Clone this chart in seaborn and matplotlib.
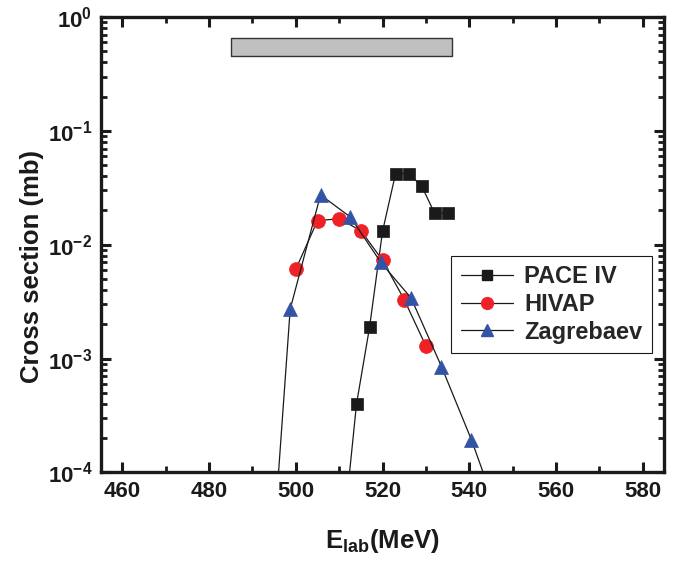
import matplotlib
matplotlib.use("Agg")
import matplotlib.pyplot as plt
from matplotlib.lines import Line2D
from matplotlib.ticker import FixedLocator, LogLocator, NullFormatter, MultipleLocator
import seaborn as sns
import pandas as pd
import numpy as np

# ---- data ----
pace_e = [511, 514, 517, 520, 523, 526, 529, 532, 535]
pace_cs = [3.0e-5, 4.0e-4, 1.88e-3, 1.31e-2, 4.2e-2, 4.2e-2, 3.3e-2, 1.89e-2, 1.89e-2]

hivap_e = [500, 505, 510, 515, 520, 525, 530]
hivap_cs = [6.1e-3, 1.63e-2, 1.69e-2, 1.33e-2, 7.3e-3, 3.3e-3, 1.29e-3]

zag_e = [491.7, 498.7, 505.7, 512.6, 519.6, 526.6, 533.6, 540.5, 547.5]
zag_cs = [5e-7, 2.72e-3, 2.74e-2, 1.75e-2, 7.0e-3, 3.4e-3, 8.5e-4, 1.94e-4, 3.5e-5]

band_e = [485, 536]
band_cs = [0.45, 0.65]

series_names = ["PACE IV", "HIVAP", "Zagrebaev"]
xticks = [460, 480, 500, 520, 540, 560, 580]
yticks = [1e-4, 1e-3, 1e-2, 1e-1, 1e0]
ytick_labels = [r"$\mathbf{10^{-4}}$", r"$\mathbf{10^{-3}}$", r"$\mathbf{10^{-2}}$",
                r"$\mathbf{10^{-1}}$", r"$\mathbf{10^{0}}$"]

sns.set_theme(style="ticks")
fam = ["Liberation Sans", "DejaVu Sans"]
plt.rcParams["font.family"] = fam
plt.rcParams["font.weight"] = "bold"
plt.rcParams["mathtext.fontset"] = "custom"
plt.rcParams["mathtext.rm"] = "Liberation Sans:bold"
plt.rcParams["mathtext.bf"] = "Liberation Sans:bold"
plt.rcParams["mathtext.it"] = "Liberation Sans:bold"

fig = plt.figure(figsize=(6.89, 5.61), dpi=100)
ax = fig.add_axes([0.1462, 0.1578, 0.9642 - 0.1462, 0.9697 - 0.1578])

# band
ax.fill_between(band_e, [band_cs[0]] * 2, [band_cs[1]] * 2, facecolor="#c0c0c0",
                edgecolor="#333333", linewidth=1.0, zorder=1)

styles = [
    dict(marker="s", mfc="#1a1a1a", ms=8.5),
    dict(marker="o", mfc="#ee2127", ms=10),
    dict(marker="^", mfc="#3353a4", ms=10.5),
]
datas = [(pace_e, pace_cs), (hivap_e, hivap_cs), (zag_e, zag_cs)]
for name, (e, cs), st in zip(series_names, datas, styles):
    df = pd.DataFrame({"E": e, "cs": cs})
    sns.lineplot(data=df, x="E", y="cs", ax=ax, sort=False, estimator=None,
                 color="#1a1a1a", linewidth=0.9, marker=st["marker"],
                 markersize=st["ms"], markerfacecolor=st["mfc"],
                 markeredgecolor=st["mfc"], markeredgewidth=0.5, zorder=3)

ax.set_yscale("log")
ax.set_xlim(455, 585)
ax.set_ylim(1e-4, 1e0)

ax.xaxis.set_major_locator(FixedLocator(xticks))
ax.xaxis.set_minor_locator(MultipleLocator(10))
ax.set_xticklabels([str(t) for t in xticks])
ax.yaxis.set_major_locator(FixedLocator(yticks))
ax.set_yticklabels(ytick_labels)
ax.yaxis.set_minor_locator(LogLocator(base=10, subs=np.arange(2, 10)))
ax.yaxis.set_minor_formatter(NullFormatter())

for s in ax.spines.values():
    s.set_linewidth(2.4)
    s.set_color("#1a1a1a")
ax.tick_params(which="major", direction="in", length=7, width=2.2, top=True, right=True,
               labelsize=16, colors="#1a1a1a", pad=6)
ax.tick_params(which="minor", direction="in", length=4, width=2.0, top=True, right=True,
               colors="#1a1a1a")
for lab in ax.get_xticklabels() + ax.get_yticklabels():
    lab.set_fontweight("bold")

ax.set_xlabel(r"E$_{\mathbf{lab}}$(MeV)", fontsize=18.5, fontweight="bold", labelpad=18,
              color="#1a1a1a")
ax.set_ylabel("Cross section (mb)", fontsize=18.5, fontweight="bold",
              color="#1a1a1a")
ax.yaxis.set_label_coords(-0.1, 0.453)

handles = [Line2D([0], [0], color="#1a1a1a", lw=0.9, marker=st["marker"],
                  markersize=st["ms"] * 0.85, markerfacecolor=st["mfc"],
                  markeredgecolor=st["mfc"]) for st in styles]
leg = ax.legend(handles, series_names, loc="upper left", bbox_to_anchor=(0.622, 0.476),
                frameon=True, fancybox=False, edgecolor="#1a1a1a", framealpha=1,
                prop=dict(weight="bold", size=17),
                handlelength=2.2, handletextpad=0.5, labelspacing=0.2, borderpad=0.4,
                borderaxespad=0)
leg.get_frame().set_linewidth(0.8)

fig.savefig("out.png", dpi=100)
